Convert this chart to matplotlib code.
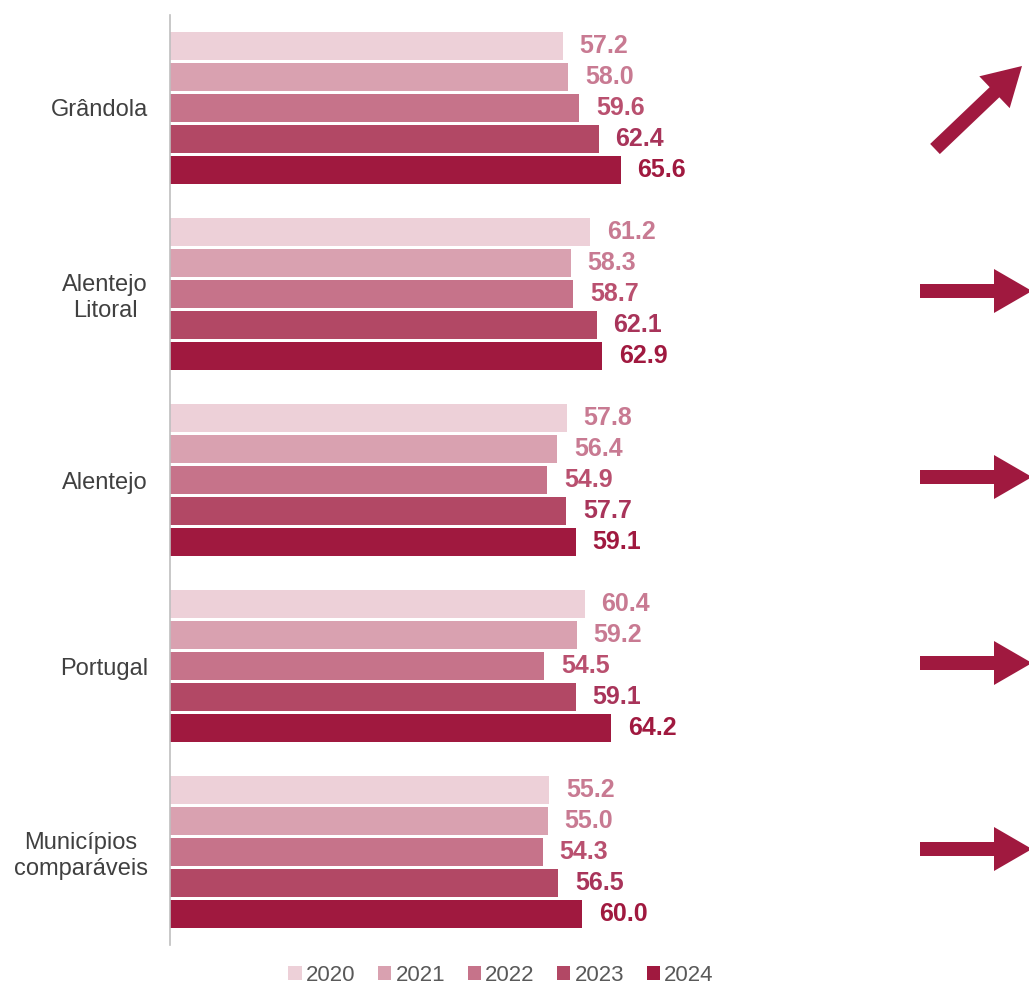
import numpy as np
import matplotlib.pyplot as plt
from matplotlib.patches import FancyArrow

plt.rcParams['font.family'] = ['Liberation Sans', 'DejaVu Sans']

# data
categories = ['Grândola', 'Alentejo\nLitoral', 'Alentejo', 'Portugal', 'Municípios\ncomparáveis']
years = ['2020', '2021', '2022', '2023', '2024']
values = {
    '2020': [57.2, 61.2, 57.8, 60.4, 55.2],
    '2021': [58.0, 58.3, 56.4, 59.2, 55.0],
    '2022': [59.6, 58.7, 54.9, 54.5, 54.3],
    '2023': [62.4, 62.1, 57.7, 59.1, 56.5],
    '2024': [65.6, 62.9, 59.1, 64.2, 60.0],
}
trend = ['up', 'flat', 'flat', 'flat', 'flat']

bar_colors = ['#EDD0D8', '#D9A1B0', '#C6738A', '#B24865', '#A0193F']
label_colors = ['#C87A92', '#C87A92', '#B9506F', '#A8345A', '#A0193F']
arrow_color = '#A0193F'

fig = plt.figure(figsize=(10.29, 9.84), dpi=100)
ax = fig.add_axes([170 / 1029, 39 / 984, 730 / 1029, 930 / 984])

group_pos = np.arange(len(categories)) * 6
for j, yr in enumerate(years):
    ypos = group_pos + (j - 2)
    bars = ax.barh(ypos, values[yr], height=0.9, color=bar_colors[j], label=yr)
    for b, v in zip(bars, values[yr]):
        ax.annotate(f'{v:.1f}', (v, b.get_y() + b.get_height() / 2),
                    xytext=(12, 0), textcoords='offset points',
                    va='center', ha='left', fontsize=18, fontweight='bold',
                    color=label_colors[j])

ax.set_xlim(0, 730 / 6.87)
ax.set_ylim(27, -3)
ax.set_yticks(group_pos)
ax.set_yticklabels(categories, fontsize=17, color='#404040', ma='center')
ax.tick_params(axis='y', length=0, pad=16)
ax.set_xticks([])
for s in ['top', 'right', 'bottom']:
    ax.spines[s].set_visible(False)
ax.spines['left'].set_color('#BFBFBF')
ax.spines['left'].set_linewidth(1.2)

fig.legend(loc='lower center', bbox_to_anchor=(0.487, -0.022), ncol=5, frameon=False,
           fontsize=16, labelcolor='#595959', handlelength=0.6, handleheight=0.6,
           handletextpad=0.2, columnspacing=1.0)

# trend arrows in pixel coordinates
ov = fig.add_axes([0, 0, 1, 1])
ov.set_xlim(0, 1029)
ov.set_ylim(0, 984)
ov.axis('off')
ov.patch.set_alpha(0)
for gp, t in zip(group_pos, trend):
    _, yc = ax.transData.transform((0, gp))
    if t == 'up':
        x0, y0 = 935, yc - 41
        dx, dy = 87, 83
    elif t == 'down':
        x0, y0 = 935, yc + 41
        dx, dy = 87, -83
    else:
        x0, y0 = 920, yc + 3
        dx, dy = 112, 0
    ov.add_patch(FancyArrow(x0, y0, dx, dy, width=14, head_width=44, head_length=38,
                            length_includes_head=True, color=arrow_color, lw=0))

fig.savefig('out.png', dpi=100)
